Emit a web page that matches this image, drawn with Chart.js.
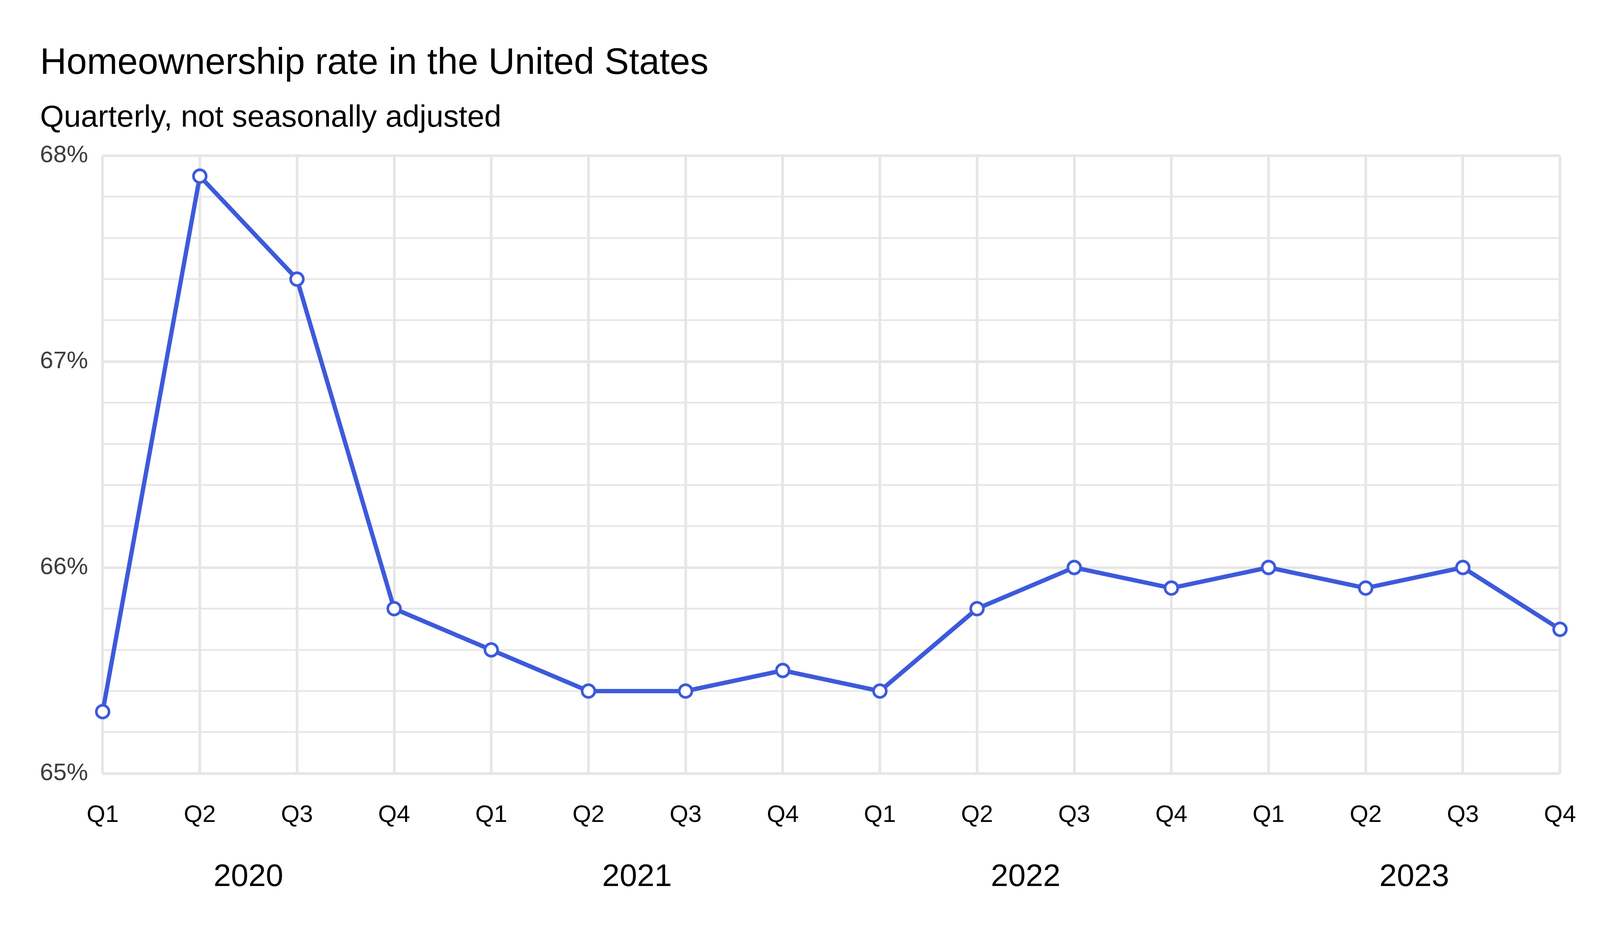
<!DOCTYPE html>
<html>
<head>
<meta charset="utf-8">
<script src="https://cdn.jsdelivr.net/npm/chart.js@4"></script>
<style>
  html, body { margin: 0; padding: 0; background: #ffffff; overflow: hidden; }
  #wrap { position: relative; }
  #wrap canvas { display: block; }
</style>
</head>
<body>
<div id="wrap"><canvas id="c"></canvas></div>
<script>
const years = ['2020', '2021', '2022', '2023'];
const quarters = ['Q1', 'Q2', 'Q3', 'Q4'];
const rates = [65.3, 67.9, 67.4, 65.8, 65.6, 65.4, 65.4, 65.5, 65.4, 65.8, 66.0, 65.9, 66.0, 65.9, 66.0, 65.7];
const yMin = 65, yMax = 68, yStep = 0.2;
const yearCenters = [1.5, 5.5, 9.5, 13.5];

const labels = [];
years.forEach(() => quarters.forEach(q => labels.push(q)));

// Design is 4800x2400; fill whatever viewport we get.
const W = window.innerWidth || 4800;
const H = window.innerHeight || 2400;
const SX = W / 4800, SY = H / 2400;
const fx = v => v * SX;   // horizontal sizes, fonts, strokes
const fy = v => v * SY;   // vertical positions
const wrap = document.getElementById('wrap');
wrap.style.width = W + 'px';
wrap.style.height = H + 'px';

const FONT = "'Liberation Sans', Arial, Helvetica, sans-serif";
const GRID = '#e6e6e6';
const BLUE = '#3d5ada';

const isMajor = v => Math.abs(v - Math.round(v)) < 1e-6;

new Chart(document.getElementById('c'), {
  type: 'line',
  data: {
    labels: labels,
    datasets: [{
      data: rates,
      xAxisID: 'x',
      yAxisID: 'y',
      borderColor: BLUE,
      borderWidth: fx(13),
      tension: 0,
      pointRadius: fx(19),
      pointHoverRadius: fx(19),
      pointBorderWidth: fx(8),
      pointBackgroundColor: '#ffffff',
      pointBorderColor: BLUE,
      clip: false
    }]
  },
  options: {
    responsive: true,
    maintainAspectRatio: false,
    animation: false,
    layout: { padding: { left: fx(120), right: fx(120), top: 0, bottom: fy(103) } },
    plugins: {
      legend: { display: false },
      tooltip: { enabled: false },
      title: {
        display: true,
        text: 'Homeownership rate in the United States',
        align: 'start',
        color: '#000000',
        font: { family: FONT, size: fx(110), weight: 'normal', lineHeight: fy(110) + 'px' },
        padding: { top: fy(108), bottom: 0 }
      },
      subtitle: {
        display: true,
        text: 'Quarterly, not seasonally adjusted',
        align: 'start',
        color: '#000000',
        font: { family: FONT, size: fx(92), weight: 'normal', lineHeight: fy(92) + 'px' },
        padding: { top: fy(38), bottom: fy(50) }
      }
    },
    scales: {
      x: {
        type: 'category',
        position: 'bottom',
        weight: 0,
        offset: false,
        grid: { display: true, color: GRID, lineWidth: fx(8), drawTicks: false },
        border: { display: false },
        ticks: {
          autoSkip: false,
          maxRotation: 0,
          color: '#000000',
          padding: fy(30),
          font: { family: FONT, size: fx(72), lineHeight: fy(154) + 'px' }
        }
      },
      x2: {
        type: 'linear',
        position: 'bottom',
        weight: 1,
        min: 0,
        max: labels.length - 1,
        grid: { display: false, drawTicks: false },
        border: { display: false },
        afterBuildTicks: (scale) => { scale.ticks = yearCenters.map(v => ({ value: v })); },
        ticks: {
          autoSkip: false,
          maxRotation: 0,
          color: '#000000',
          padding: 0,
          font: { family: FONT, size: fx(94), lineHeight: fy(104) + 'px' },
          callback: (value, index) => years[index]
        }
      },
      y: {
        type: 'linear',
        position: 'left',
        min: yMin,
        max: yMax,
        afterFit: (scale) => { scale.width = fx(188); },
        grid: {
          display: true,
          color: GRID,
          drawTicks: false,
          lineWidth: (ctx) => (ctx.tick && isMajor(ctx.tick.value)) ? fx(8) : fx(5)
        },
        border: { display: false },
        ticks: {
          stepSize: yStep,
          maxTicksLimit: 100,
          autoSkip: false,
          color: '#3d3d3d',
          padding: fx(44),
          font: { family: FONT, size: fx(72), lineHeight: 1.2 },
          callback: (v) => isMajor(v) ? Math.round(v) + '%' : ''
        }
      }
    }
  }
});
</script>
</body>
</html>
